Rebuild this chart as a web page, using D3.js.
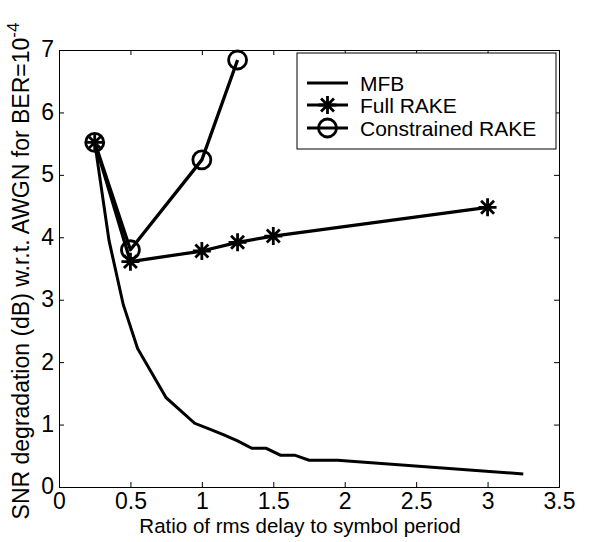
<!DOCTYPE html>
<html><head><meta charset="utf-8">
<script src="https://cdn.jsdelivr.net/npm/d3@7"></script>
<style>body{margin:0;background:#fff}svg{display:block}text{font-family:"Liberation Sans",Arial,sans-serif;fill:#000}</style>
</head><body>
<svg id="c" width="591" height="542"></svg>
<script>
const mfbX = [0.25,0.35,0.45,0.55,0.75,0.95,1.05,1.15,1.25,1.35,1.45,1.55,1.65,1.75,1.95,3.25];
const mfbY = [5.52,3.95,2.92,2.22,1.43,1.02,0.93,0.84,0.74,0.62,0.62,0.51,0.51,0.43,0.43,0.21];
const fullX = [0.25,0.5,1,1.25,1.5,3];
const fullY = [5.52,3.61,3.78,3.92,4.02,4.48];
const consX = [0.25,0.5,1,1.25];
const consY = [5.52,3.80,5.24,6.84];
const xTicks = [0,0.5,1,1.5,2,2.5,3,3.5];
const yTicks = [0,1,2,3,4,5,6,7];
const legendLabels = ["MFB","Full RAKE","Constrained RAKE"];

const svg = d3.select("#c");
const L=59,R=559,T=50,B=487;
const x = d3.scaleLinear().domain([0,3.5]).range([L,R]);
const y = d3.scaleLinear().domain([0,7]).range([B,T]);

const fmt = d => String(d);
const ax = svg.append("g").attr("transform",`translate(0,${B})`)
  .call(d3.axisBottom(x).tickValues(xTicks).tickSize(-5).tickPadding(8).tickFormat(fmt));
const axT = svg.append("g").attr("transform",`translate(0,${T})`)
  .call(d3.axisTop(x).tickValues(xTicks).tickSize(-5).tickFormat(""));
const ay = svg.append("g").attr("transform",`translate(${L},0)`)
  .call(d3.axisLeft(y).tickValues(yTicks).tickSize(-5).tickPadding(5).tickFormat(fmt));
const ayR = svg.append("g").attr("transform",`translate(${R},0)`)
  .call(d3.axisRight(y).tickValues(yTicks).tickSize(-5).tickFormat(""));
[ax,axT,ay,ayR].forEach(g=>{
  g.select(".domain").attr("stroke","#000").attr("stroke-width",1);
  g.selectAll(".tick line").attr("stroke","#000");
  g.selectAll("text").style("font-size","23px").attr("font-family","Liberation Sans, Arial, sans-serif").attr("fill","#000");
});
ax.selectAll("text").attr("dy","14px");
ay.selectAll("text").attr("dy","0.3em");

svg.append("text").attr("x",300).attr("y",533).attr("text-anchor","middle")
  .style("font-size","20.5px").text("Ratio of rms delay to symbol period");
const yl = svg.append("text").attr("transform",`translate(29,271) rotate(-90)`)
  .attr("text-anchor","middle").style("font-size","23px");
yl.append("tspan").text("SNR degradation (dB) w.r.t. AWGN for BER=10");
yl.append("tspan").attr("dy","-0.6em").style("font-size","17px").text("-4");

const line = d3.line().x(d=>x(d[0])).y(d=>y(d[1]));
const mfb = mfbX.map((v,i)=>[v,mfbY[i]]);
const full = fullX.map((v,i)=>[v,fullY[i]]);
const cons = consX.map((v,i)=>[v,consY[i]]);

const plot = svg.append("g");
plot.append("path").datum(mfb).attr("d",line).attr("fill","none").attr("stroke","#000").attr("stroke-width",3).attr("stroke-linejoin","miter");
plot.append("path").datum(full).attr("d",line).attr("fill","none").attr("stroke","#000").attr("stroke-width",3.3).attr("stroke-linejoin","round");
plot.append("path").datum(cons).attr("d",line).attr("fill","none").attr("stroke","#000").attr("stroke-width",3.3).attr("stroke-linejoin","round");

function star(g,cx,cy,s){
  const a = s*0.72;
  const p = `M${cx-s},${cy}L${cx+s},${cy}M${cx},${cy-s}L${cx},${cy+s}M${cx-a},${cy-a}L${cx+a},${cy+a}M${cx-a},${cy+a}L${cx+a},${cy-a}`;
  g.append("path").attr("d",p).attr("stroke","#000").attr("stroke-width",2.8).attr("fill","none");
}
full.forEach(d=>star(plot,x(d[0]),y(d[1]),9));
plot.selectAll("circle.m").data(cons).join("circle").attr("class","m")
  .attr("cx",d=>x(d[0])).attr("cy",d=>y(d[1])).attr("r",9)
  .attr("fill","none").attr("stroke","#000").attr("stroke-width",2.8);

const lg = svg.append("g");
lg.append("rect").attr("x",297).attr("y",53).attr("width",259).attr("height",96)
  .attr("fill","#fff").attr("stroke","#000").attr("stroke-width",1);
const ly = [83,105,128];
legendLabels.forEach((t,i)=>{
  lg.append("line").attr("x1",307).attr("x2",348).attr("y1",ly[i]).attr("y2",ly[i])
    .attr("stroke","#000").attr("stroke-width",3);
  lg.append("text").attr("x",360).attr("y",ly[i]).attr("dy","0.36em").style("font-size","21px").text(t);
});
star(lg,327.5,ly[1],9);
lg.append("circle").attr("cx",327.5).attr("cy",ly[2]).attr("r",9).attr("fill","none").attr("stroke","#000").attr("stroke-width",2.8);
</script>
</body></html>
